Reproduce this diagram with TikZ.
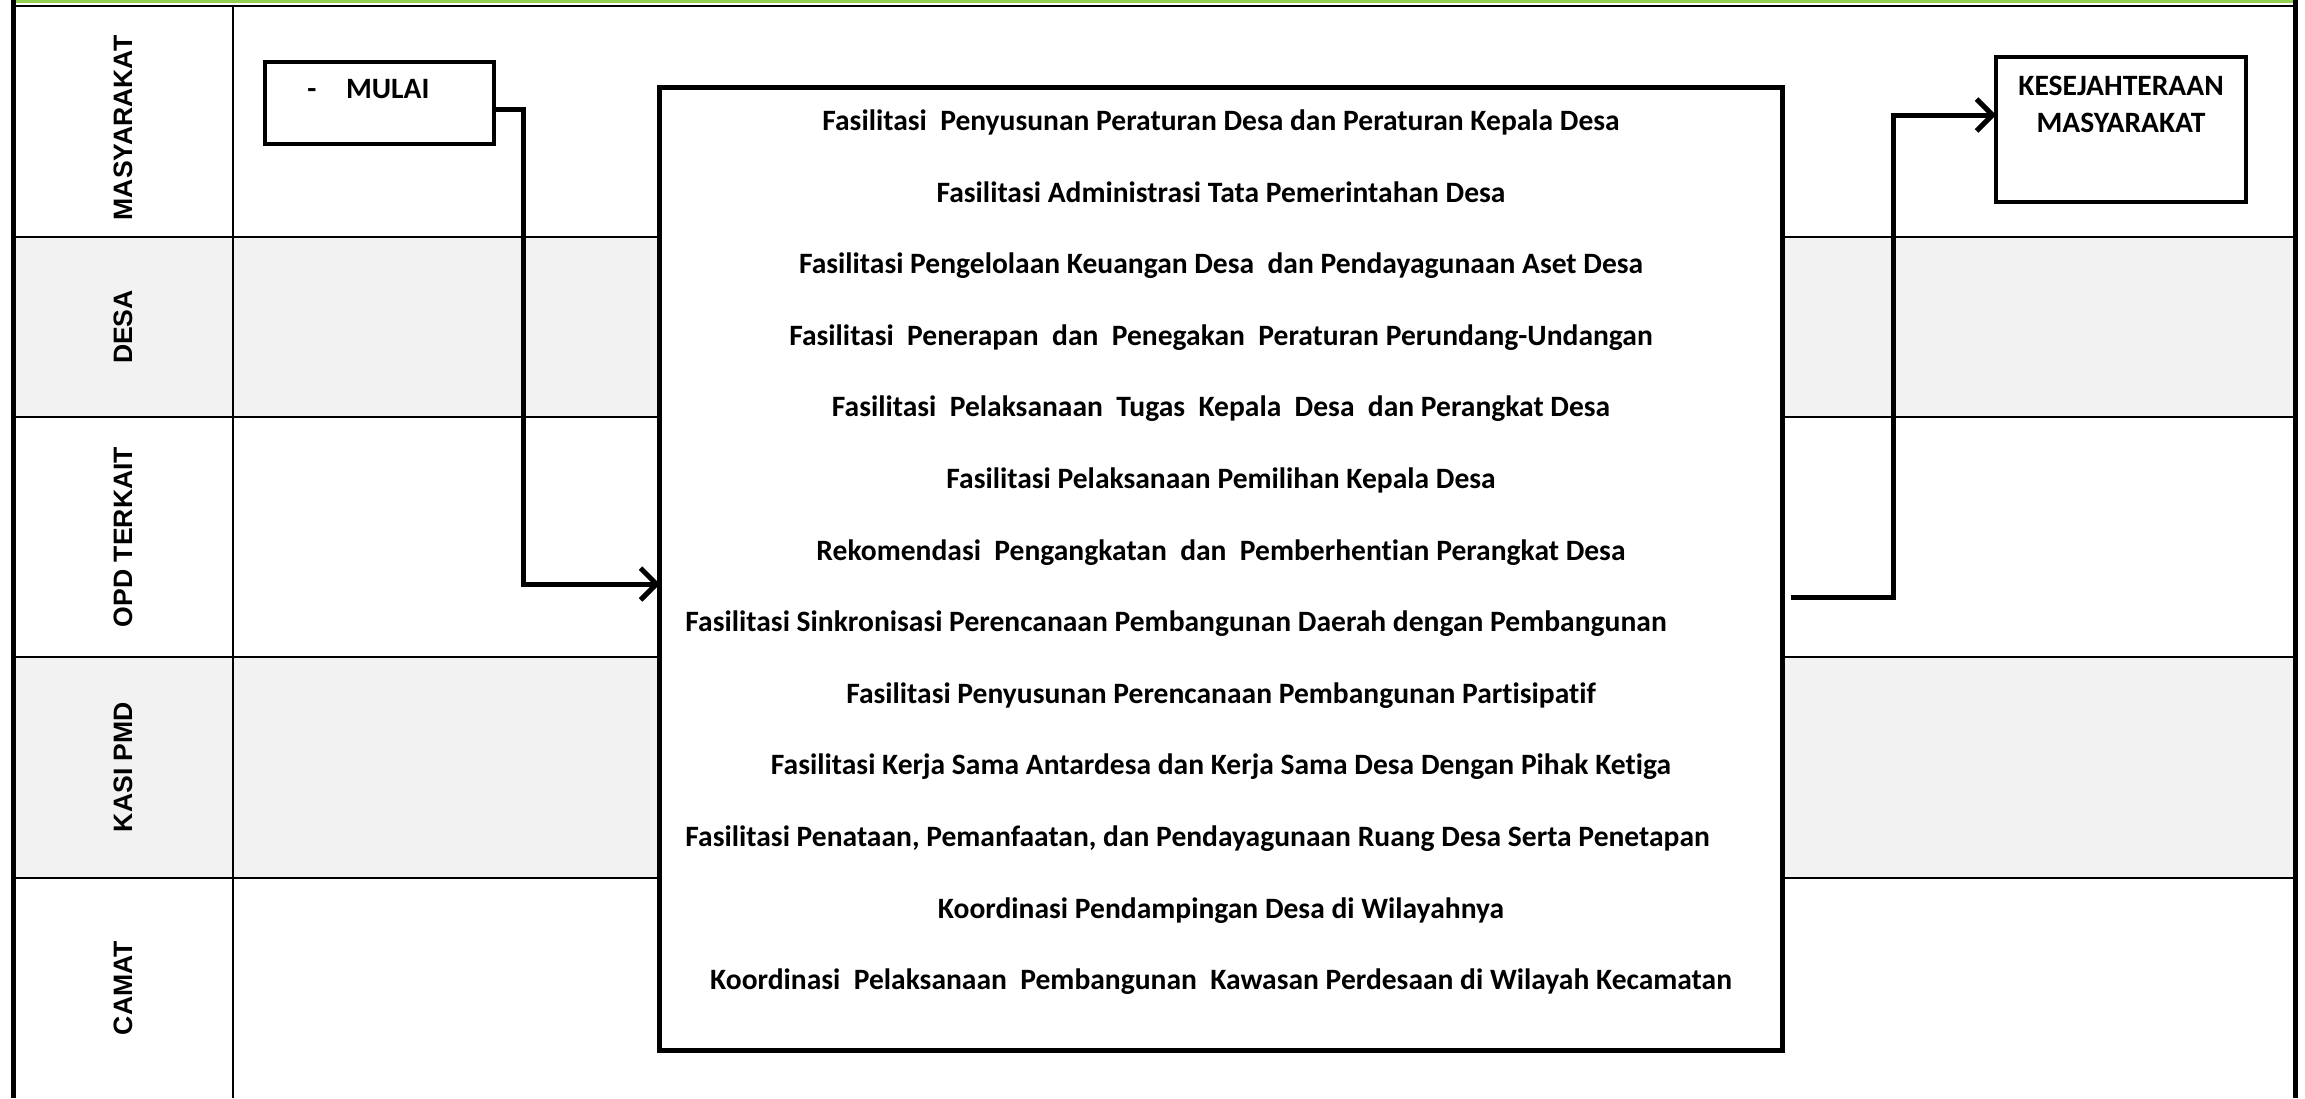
\documentclass[tikz,border=0pt]{standalone}
\usepackage{fontspec}
\setmainfont{Carlito}[Ligatures=NoCommon]
\newfontfamily\lanefont{Liberation Sans}
\usetikzlibrary{arrows.meta,positioning}
\definecolor{lanegray}{RGB}{242,242,242}
\definecolor{topgreen}{RGB}{146,208,80}

\begin{document}
\begin{tikzpicture}[x=0.44pt,y=-0.44pt,
  lanelabel/.style={rotate=90,font=\lanefont\bfseries\fontsize{11.7}{14}\selectfont},
  item/.style={font=\bfseries\fontsize{13}{16}\selectfont,anchor=mid,inner sep=0pt},
  boxline/.style={draw,line width=1.7pt,inner sep=0pt},
  rowline/.style={line width=0.9pt},
  flow/.style={line width=2.2pt,-{Straight Barb[length=7pt,width=14pt]}}]
  \useasboundingbox (0,0) rectangle (2305,1098);

  % lajur
  \fill[lanegray] (13,237) rectangle (2295,417);
  \fill[lanegray] (13,657) rectangle (2295,878);
  \draw[rowline] (13,237) -- (2295,237);
  \draw[rowline] (13,417) -- (2295,417);
  \draw[rowline] (13,657) -- (2295,657);
  \draw[rowline] (13,878) -- (2295,878);
  \draw[rowline] (233,6) -- (233,1098);
  \draw[topgreen,line width=1.4pt] (13,1.6) -- (2293,1.6);
  \draw[line width=1.1pt] (13,5.8) -- (2293,5.8);
  \draw[line width=2.2pt] (13.5,0) -- (13.5,1098);
  \draw[line width=2.2pt] (2295,0) -- (2295,1098);

  \node[lanelabel] (masy) at (123,128) {MASYARAKAT};
  \node[lanelabel] (desa) at (123,327) {DESA};
  \node[lanelabel] (opd) at (123,537) {OPD TERKAIT};
  \node[lanelabel] (kasi) at (123,767) {KASI PMD};
  \node[lanelabel] (camat) at (123,988) {CAMAT};

  % kotak
  \node[boxline,fill=white,minimum width=100.8pt,minimum height=36pt] (mulai) at (379.5,103) {};
  \node[item,anchor=mid west] (mulaitxt) at (307,93) {-\hspace{13pt}MULAI};
  \node[draw,fill=white,line width=2.2pt,minimum width=493.7pt,minimum height=423.3pt,inner sep=0pt] (kegiatan) at (1221,569) {};
  \node[boxline,fill=white,minimum width=110pt,minimum height=63.8pt] (kes) at (2121,129.5) {};
  \node[item,align=center,anchor=north] (kestxt) at (2121,76) {KESEJAHTERAAN\\MASYARAKAT};

  % daftar kegiatan
  \node[item] (k1) at (1221,125) {Fasilitasi~ Penyusunan Peraturan Desa dan Peraturan Kepala Desa};
  \node[item] (k2) at (1221,197) {Fasilitasi Administrasi Tata Pemerintahan Desa};
  \node[item] (k3) at (1221,268) {Fasilitasi Pengelolaan Keuangan Desa~ dan Pendayagunaan Aset Desa};
  \node[item] (k4) at (1221,340) {Fasilitasi~ Penerapan~ dan~ Penegakan~ Peraturan Perundang-Undangan};
  \node[item] (k5) at (1221,411) {Fasilitasi~ Pelaksanaan~ Tugas~ Kepala~ Desa~ dan Perangkat Desa};
  \node[item] (k6) at (1221,483) {Fasilitasi Pelaksanaan Pemilihan Kepala Desa};
  \node[item] (k7) at (1221,555) {Rekomendasi~ Pengangkatan~ dan~ Pemberhentian Perangkat Desa};
  \node[item,anchor=mid west] (k8) at (685,626) {Fasilitasi Sinkronisasi Perencanaan Pembangunan Daerah dengan Pembangunan};
  \node[item] (k9) at (1221,698) {Fasilitasi Penyusunan Perencanaan Pembangunan Partisipatif};
  \node[item] (k10) at (1221,769) {Fasilitasi Kerja Sama Antardesa dan Kerja Sama Desa Dengan Pihak Ketiga};
  \node[item,anchor=mid west] (k11) at (685,841) {Fasilitasi Penataan, Pemanfaatan, dan Pendayagunaan Ruang Desa Serta Penetapan};
  \node[item] (k12) at (1221,913) {Koordinasi Pendampingan Desa di Wilayahnya};
  \node[item] (k13) at (1221,984) {Koordinasi~ Pelaksanaan~ Pembangunan~ Kawasan Perdesaan di Wilayah Kecamatan};

  % alur
  \coordinate (masuk) at (660,584);
  \coordinate (keluar) at (1791,597);
  \coordinate (hasil) at (1996,115);
  \draw[flow] (mulai.east |- 0,109) -- ++(28,0) |- (masuk);
  \draw[flow] (keluar) -- ++(102,0) |- (hasil);
\end{tikzpicture}
\end{document}
